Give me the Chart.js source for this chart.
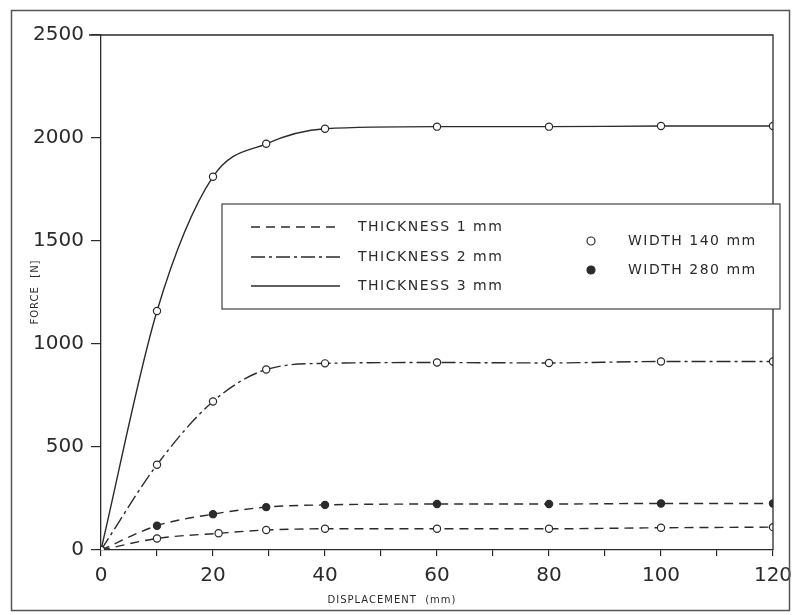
<!DOCTYPE html>
<html>
<head>
<meta charset="utf-8">
<title>Force vs displacement</title>
<script src="https://cdn.jsdelivr.net/npm/chart.js@4.4.0/dist/chart.umd.min.js"></script>
<style>
  html, body { margin: 0; padding: 0; background: #fff; }
  canvas { display: block; }
</style>
</head>
<body>
<canvas id="forceChart" width="795" height="615"></canvas>
<script>
// values (displacement in mm, force in N)
const displacement = [0, 10, 20, 29.5, 40, 60, 80, 100, 120];
const displacementT1W140 = [0, 10, 21, 29.5, 40, 60, 80, 100, 120];
const forceT3W140 = [0, 1160, 1812, 1972, 2045, 2055, 2055, 2058, 2058];
const forceT2W140 = [0, 414, 721, 876, 906, 910, 908, 915, 915];
const forceT1W280 = [0, 118, 174, 208, 219, 223, 223, 226, 226];
const forceT1W140 = [0, 56, 81, 97, 103, 103, 103, 108, 111];

const xTicks = [0, 20, 40, 60, 80, 100, 120];
const yTicks = [0, 500, 1000, 1500, 2000, 2500];

const thicknessLabels = ['THICKNESS 1 mm', 'THICKNESS 2 mm', 'THICKNESS 3 mm'];
const widthLabels = ['WIDTH 140 mm', 'WIDTH 280 mm'];
const xTitle = 'DISPLACEMENT  (mm)';
const yTitle = 'FORCE  [N]';

const ink = '#2b2b2b';
const dashT1 = [9, 6];
const dashT2 = [14, 4, 3, 4];

const toPoints = (xs, ys) => xs.map((x, i) => ({ x, y: ys[i] }));

const lineSet = (label, data, dash, filled) => ({
  label,
  data,
  borderColor: ink,
  borderWidth: 1.4,
  borderDash: dash,
  backgroundColor: filled ? ink : '#fff',
  pointBorderColor: ink,
  pointBorderWidth: 1.2,
  pointRadius: 3.6,
  pointStyle: 'circle',
  cubicInterpolationMode: 'monotone',
  fill: false,
});

// frame, plot box, axis titles and the boxed legend
const paperPlugin = {
  id: 'paper',
  afterDatasetsDraw(chart) {
    const { ctx, chartArea } = chart;
    ctx.save();

    ctx.strokeStyle = '#555';
    ctx.lineWidth = 1.5;
    ctx.strokeRect(11.5, 10.5, 778, 600);

    ctx.strokeStyle = ink;
    ctx.lineWidth = 1.3;
    ctx.beginPath();
    ctx.moveTo(chartArea.left - 12, chartArea.top);
    ctx.lineTo(chartArea.right, chartArea.top);
    ctx.lineTo(chartArea.right, chartArea.bottom);
    ctx.stroke();

    ctx.fillStyle = ink;
    ctx.font = '10px "DejaVu Sans"';
    ctx.letterSpacing = '1px';
    ctx.textAlign = 'center';
    ctx.textBaseline = 'middle';
    ctx.fillText(xTitle, 392, 600);
    ctx.save();
    ctx.translate(35, 292);
    ctx.rotate(-Math.PI / 2);
    ctx.fillText(yTitle, 0, 0);
    ctx.restore();

    // legend box
    const box = { left: 222, top: 204, right: 780, bottom: 309 };
    ctx.fillStyle = '#fff';
    ctx.fillRect(box.left, box.top, box.right - box.left, box.bottom - box.top);
    ctx.strokeStyle = '#444';
    ctx.lineWidth = 1.2;
    ctx.strokeRect(box.left, box.top, box.right - box.left, box.bottom - box.top);

    const rows = [227, 257, 286];
    const dashes = [dashT1, dashT2, []];
    ctx.strokeStyle = ink;
    ctx.lineWidth = 1.3;
    rows.forEach((y, i) => {
      ctx.setLineDash(dashes[i]);
      ctx.beginPath();
      ctx.moveTo(251, y);
      ctx.lineTo(340, y);
      ctx.stroke();
    });
    ctx.setLineDash([]);

    ctx.fillStyle = ink;
    ctx.font = '14px "DejaVu Sans"';
    ctx.letterSpacing = '1.5px';
    ctx.textAlign = 'left';
    rows.forEach((y, i) => ctx.fillText(thicknessLabels[i], 358, y));

    const markRows = [241, 270];
    markRows.forEach((y, i) => {
      ctx.beginPath();
      ctx.arc(591, y, 4, 0, Math.PI * 2);
      ctx.fillStyle = i === 0 ? '#fff' : ink;
      ctx.fill();
      ctx.lineWidth = 1.2;
      ctx.stroke();
      ctx.fillStyle = ink;
      ctx.fillText(widthLabels[i], 628, y);
    });

    ctx.restore();
  },
};

const ctx = document.getElementById('forceChart').getContext('2d');

new Chart(ctx, {
  type: 'line',
  data: {
    datasets: [
      lineSet('T3 W140', toPoints(displacement, forceT3W140), [], false),
      lineSet('T2 W140', toPoints(displacement, forceT2W140), dashT2, false),
      lineSet('T1 W140', toPoints(displacementT1W140, forceT1W140), dashT1, false),
      lineSet('T1 W280', toPoints(displacement, forceT1W280), dashT1, true),
    ],
  },
  options: {
    responsive: false,
    animation: false,
    layout: { padding: { top: 35, right: 22, left: 0, bottom: 0 } },
    plugins: {
      legend: { display: false },
      tooltip: { enabled: false },
    },
    scales: {
      x: {
        type: 'linear',
        min: 0,
        max: 120,
        afterFit: (scale) => {
          scale.height = 65;
          scale.paddingLeft = 0;
          scale.paddingRight = 0;
        },
        afterBuildTicks: (scale) => {
          scale.ticks = [];
          for (let v = 0; v <= 120; v += 10) scale.ticks.push({ value: v });
        },
        ticks: {
          autoSkip: false,
          maxRotation: 0,
          padding: 8,
          color: ink,
          font: { family: 'DejaVu Sans', size: 20 },
          callback: (v) => (xTicks.includes(v) ? String(v) : ''),
        },
        grid: { drawOnChartArea: false, tickLength: 6, color: ink, lineWidth: 1.2 },
        border: { color: ink, width: 1.3 },
      },
      y: {
        min: 0,
        max: 2500,
        afterFit: (scale) => { scale.width = 101; },
        afterBuildTicks: (scale) => {
          scale.ticks = yTicks.map((v) => ({ value: v }));
        },
        ticks: {
          padding: 7,
          color: ink,
          font: { family: 'DejaVu Sans', size: 20 },
          callback: (v) => String(v),
        },
        grid: { drawOnChartArea: false, tickLength: 10, color: ink, lineWidth: 1.2 },
        border: { color: ink, width: 1.3 },
      },
    },
  },
  plugins: [paperPlugin],
});
</script>
</body>
</html>
